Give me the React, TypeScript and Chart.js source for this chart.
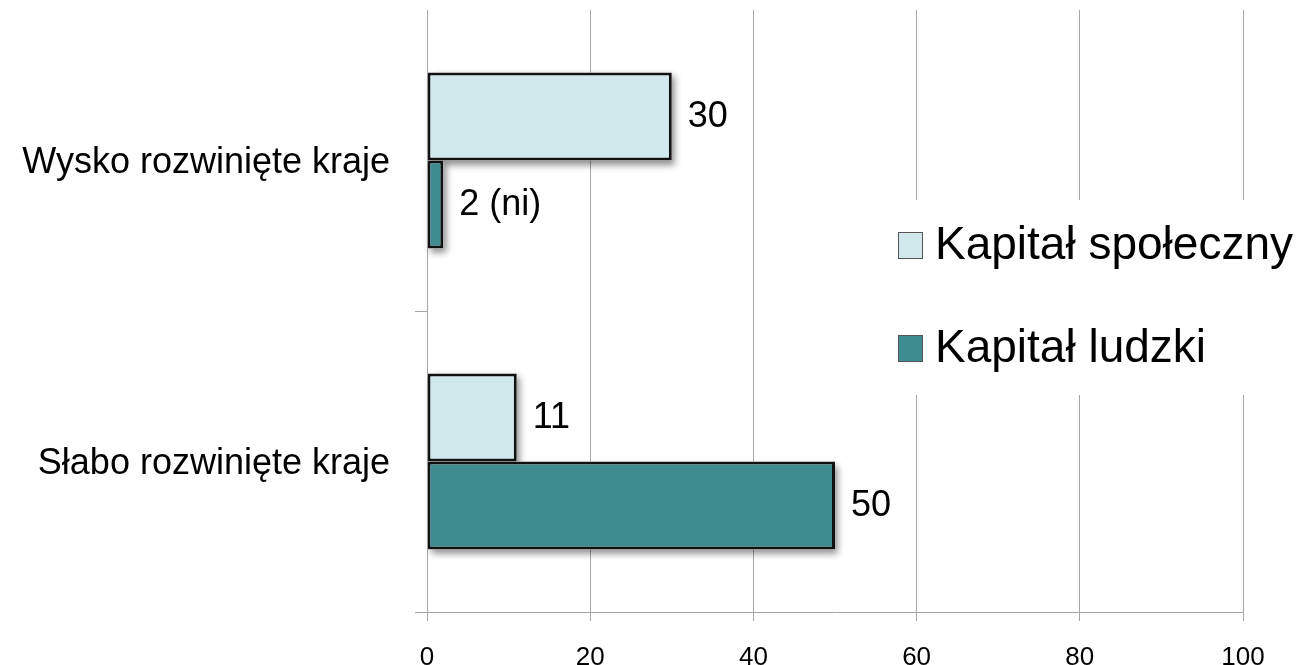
import React, { useEffect, useRef } from "react";
import { Chart, registerables } from "chart.js";

Chart.register(...registerables);

const categories = ["Wysko rozwinięte kraje", "Słabo rozwinięte kraje"];
const seriesNames = ["Kapitał społeczny", "Kapitał ludzki"];
const spoleczny = [30, 11];
const ludzki = [2, 50];
const spolecznyLabels = ["30", "11"];
const ludzkiLabels = ["2 (ni)", "50"];
const xMin = 0;
const xMax = 100;
const xStep = 20;

const FONT = "'Liberation Sans', Arial, sans-serif";
const LIGHT = "#d0e8eb";
const TEAL = "#3e8c90";
const GRID = "#a6a6a6";

const shadowPlugin = {
  id: "barShadow",
  beforeDatasetsDraw(chart: any) {
    const ctx = chart.ctx;
    ctx.save();
    ctx.shadowColor = "rgba(0,0,0,0.45)";
    ctx.shadowBlur = 7;
    ctx.shadowOffsetX = 3;
    ctx.shadowOffsetY = 4;
    ctx.fillStyle = "#ffffff";
    chart.data.datasets.forEach((_: any, di: number) => {
      const meta = chart.getDatasetMeta(di);
      meta.data.forEach((bar: any) => {
        const p = bar.getProps(["x", "y", "base", "height"], true);
        const left = Math.min(p.x, p.base);
        const w = Math.abs(p.x - p.base);
        ctx.fillRect(left, p.y - p.height / 2, w, p.height);
      });
    });
    ctx.restore();
  },
};

const valueLabelPlugin = {
  id: "valueLabels",
  afterDraw(chart: any) {
    const ctx = chart.ctx;
    const allLabels = [spolecznyLabels, ludzkiLabels];
    ctx.save();
    ctx.font = `36px ${FONT}`;
    ctx.fillStyle = "#000";
    ctx.textAlign = "left";
    ctx.textBaseline = "middle";
    chart.data.datasets.forEach((_: any, di: number) => {
      const meta = chart.getDatasetMeta(di);
      meta.data.forEach((bar: any, i: number) => {
        ctx.fillText(allLabels[di][i], bar.x + 16, bar.y + 1);
      });
    });
    ctx.restore();
  },
};

const legendPlugin = {
  id: "customLegend",
  afterDraw(chart: any) {
    const ctx = chart.ctx;
    ctx.save();
    ctx.fillStyle = "#ffffff";
    ctx.fillRect(880, 200, 427, 195);
    const ys = [245, 348];
    chart.data.datasets.forEach((ds: any, i: number) => {
      const y = ys[i];
      ctx.fillStyle = ds.backgroundColor;
      ctx.fillRect(898, y - 13, 25, 27);
      ctx.strokeStyle = "#555";
      ctx.lineWidth = 1;
      ctx.strokeRect(898.5, y - 12.5, 24, 26);
      ctx.fillStyle = "#000";
      ctx.font = `46px ${FONT}`;
      ctx.textAlign = "left";
      ctx.textBaseline = "middle";
      ctx.fillText(ds.label, 935, y + 1);
    });
    ctx.restore();
  },
};

export default function App() {
  const canvasRef = useRef<HTMLCanvasElement | null>(null);

  useEffect(() => {
    if (!canvasRef.current) return;
    const chart = new Chart(canvasRef.current, {
      type: "bar",
      data: {
        labels: categories,
        datasets: [
          {
            label: seriesNames[0],
            data: spoleczny,
            backgroundColor: LIGHT,
            borderColor: "#111",
            borderWidth: 3,
            borderSkipped: false,
            categoryPercentage: 0.585,
            barPercentage: 1,
          },
          {
            label: seriesNames[1],
            data: ludzki,
            backgroundColor: TEAL,
            borderColor: "#111",
            borderWidth: 3,
            borderSkipped: false,
            categoryPercentage: 0.585,
            barPercentage: 1,
          },
        ],
      },
      options: {
        indexAxis: "y",
        animation: false,
        responsive: true,
        maintainAspectRatio: false,
        layout: { padding: { top: 10, right: 64, left: 0, bottom: 0 } },
        plugins: {
          legend: { display: false },
          tooltip: { enabled: false },
        },
        scales: {
          x: {
            min: xMin,
            max: xMax,
            ticks: {
              stepSize: xStep,
              color: "#000",
              font: { family: FONT, size: 26 },
              padding: 21,
            },
            grid: {
              color: GRID,
              lineWidth: 1,
              tickLength: 9,
              tickColor: GRID,
            },
            border: { color: GRID, width: 1 },
            afterFit: (s: any) => {
              s.height = 53;
            },
          },
          y: {
            ticks: {
              color: "#000",
              font: { family: FONT, size: 36 },
              padding: 25,
              labelOffset: 3,
            },
            grid: {
              drawOnChartArea: false,
              drawTicks: true,
              tickLength: 12,
              tickColor: (c: any) => (c.index === 0 ? "rgba(0,0,0,0)" : GRID),
              color: GRID,
            },
            border: { color: GRID, width: 1 },
            afterFit: (s: any) => {
              s.width = 427;
              s.paddingTop = 0;
              s.paddingBottom = 0;
            },
          },
        },
      },
      plugins: [shadowPlugin, valueLabelPlugin, legendPlugin],
    } as any);
    return () => chart.destroy();
  }, []);

  return (
    <div style={{ position: "fixed", left: 0, top: 0, width: 1307, height: 665, background: "#fff" }}>
      <canvas ref={canvasRef} />
    </div>
  );
}
